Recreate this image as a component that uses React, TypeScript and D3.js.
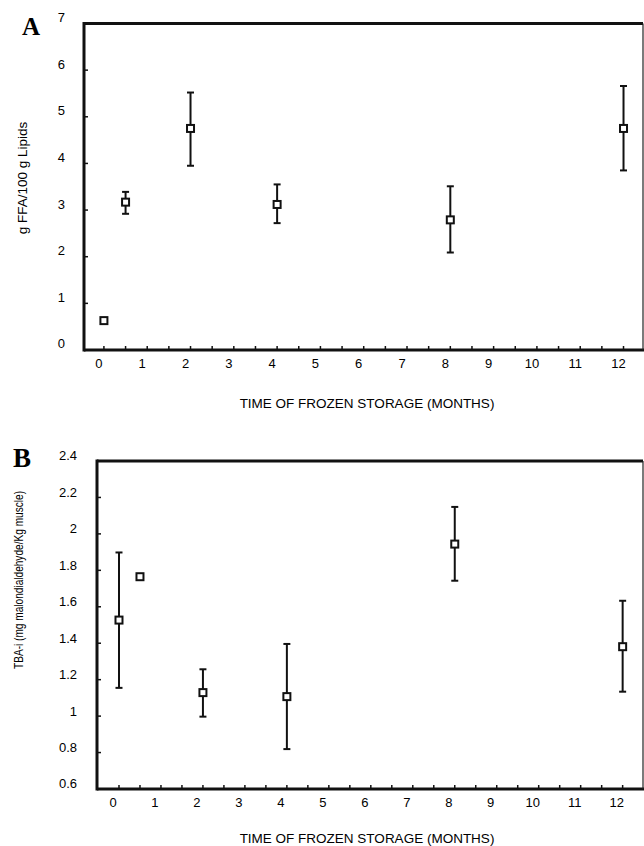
import React from "react";
import * as d3 from "d3";

// ---- Data ----
const monthsA = [0, 0.5, 2, 4, 8, 12];
const ffaMean = [0.63, 3.17, 4.75, 3.12, 2.79, 4.75];
const ffaLow = [0.63, 2.92, 3.95, 2.72, 2.09, 3.85];
const ffaHigh = [0.63, 3.39, 5.52, 3.55, 3.51, 5.66];

const monthsB = [0, 0.5, 2, 4, 8, 12];
const tbaMean = [1.527, 1.765, 1.129, 1.107, 1.944, 1.381];
const tbaLow = [1.155, 1.75, 0.997, 0.819, 1.743, 1.134];
const tbaHigh = [1.898, 1.78, 1.257, 1.396, 2.148, 1.633];

const xTicks = [0, 1, 2, 3, 4, 5, 6, 7, 8, 9, 10, 11, 12];
const yTicksA = [0, 1, 2, 3, 4, 5, 6, 7];
const yTicksB = [0.6, 0.8, 1, 1.2, 1.4, 1.6, 1.8, 2, 2.2, 2.4];

const xTitle = "TIME OF FROZEN STORAGE (MONTHS)";
const yTitleA = "g FFA/100 g Lipids";
const yTitleB = "TBA-i (mg malondialdehyde/Kg muscle)";

const FONT = "'Liberation Sans', Arial, Helvetica, sans-serif";
const SERIF = "'Liberation Serif', 'Times New Roman', serif";

type PanelProps = {
  letter: string;
  letterX: number;
  letterY: number;
  letterSize: number;
  left: number;
  right: number;
  top: number;
  bottom: number;
  xDomain: [number, number];
  yDomain: [number, number];
  yTicks: number[];
  yFmt: (v: number) => string;
  yLabelX: number;
  yLabelDy: number;
  xLabelDx: number;
  xLabelY: number;
  xTitleY: number;
  yTitle: string;
  yTitleX: number;
  yTitleY: number;
  yTitleSize: number;
  yTitleLen?: number;
  xs: number[];
  mean: number[];
  lo: number[];
  hi: number[];
};

function Panel(p: PanelProps) {
  const x = d3.scaleLinear().domain(p.xDomain).range([p.left, p.right]);
  const y = d3.scaleLinear().domain(p.yDomain).range([p.bottom, p.top]);
  const minor = d3.range(0, 12.01, 0.5);
  const sq = 7;
  return (
    <g>
      <text x={p.letterX} y={p.letterY} fontFamily={SERIF} fontWeight="bold" fontSize={p.letterSize} fill="#000">
        {p.letter}
      </text>
      {/* frame */}
      <line x1={p.left} x2={p.right} y1={p.top} y2={p.top} stroke="#111" strokeWidth={3} />
      <line x1={p.left} x2={p.right + 1} y1={p.bottom} y2={p.bottom} stroke="#111" strokeWidth={3} />
      <line x1={p.left} x2={p.left} y1={p.top - 1.5} y2={p.bottom + 1.5} stroke="#111" strokeWidth={3} />
      <line x1={p.right} x2={p.right} y1={p.top} y2={p.bottom} stroke="#222" strokeWidth={1.2} />
      {/* y ticks */}
      {p.yTicks.map((t) => (
        <g key={"y" + t}>
          <line x1={p.left} x2={p.left + 4} y1={y(t)} y2={y(t)} stroke="#111" strokeWidth={1.5} />
          <text x={p.yLabelX} y={y(t) + p.yLabelDy} textAnchor="end" dominantBaseline="middle" fontFamily={FONT} fontSize={13} fill="#000">
            {p.yFmt(t)}
          </text>
        </g>
      ))}
      {/* x ticks */}
      {minor.map((t) => (
        <line key={"m" + t} x1={x(t)} x2={x(t)} y1={p.bottom} y2={p.bottom - 4} stroke="#111" strokeWidth={1.5} />
      ))}
      {xTicks.map((t) => (
        <text key={"x" + t} x={x(t) + p.xLabelDx} y={p.xLabelY} textAnchor="middle" fontFamily={FONT} fontSize={13} fill="#000">
          {t}
        </text>
      ))}
      <text x={367} y={p.xTitleY} textAnchor="middle" fontFamily={FONT} fontSize={13.5} fill="#000">
        {xTitle}
      </text>
      <text
        transform={`translate(${p.yTitleX},${p.yTitleY}) rotate(-90)`}
        textAnchor="middle"
        dominantBaseline="middle"
        fontFamily={FONT}
        fontSize={p.yTitleSize}
        fill="#000"
        {...(p.yTitleLen ? { textLength: p.yTitleLen, lengthAdjust: "spacingAndGlyphs" } : {})}
      >
        {p.yTitle}
      </text>
      {/* error bars */}
      {p.xs.map((xv, i) => {
        const cx = x(xv);
        const has = p.hi[i] - p.lo[i] > 0.001;
        return (
          <g key={"e" + i}>
            {has && (
              <>
                <line x1={cx} x2={cx} y1={y(p.lo[i])} y2={y(p.hi[i])} stroke="#111" strokeWidth={2} />
                <line x1={cx - 3.5} x2={cx + 3.5} y1={y(p.lo[i])} y2={y(p.lo[i])} stroke="#111" strokeWidth={2} />
                <line x1={cx - 3.5} x2={cx + 3.5} y1={y(p.hi[i])} y2={y(p.hi[i])} stroke="#111" strokeWidth={2} />
              </>
            )}
            <rect x={cx - sq / 2} y={y(p.mean[i]) - sq / 2} width={sq} height={sq} fill="#fff" stroke="#111" strokeWidth={2} />
          </g>
        );
      })}
    </g>
  );
}

export default function App() {
  return (
    <svg width={644} height={846} style={{ position: "absolute", left: 0, top: 0, background: "#fff" }}>
      <rect width={644} height={846} fill="#fff" />
      <Panel
        letter="A"
        letterX={22}
        letterY={35}
        letterSize={25}
        left={84}
        right={643}
        top={23.5}
        bottom={350}
        xDomain={[-0.46, 12.45]}
        yDomain={[0, 7]}
        yTicks={yTicksA}
        yFmt={(v) => String(v)}
        yLabelX={65}
        yLabelDy={-5}
        xLabelDx={-5}
        xLabelY={368}
        xTitleY={408}
        yTitle={yTitleA}
        yTitleX={23}
        yTitleY={178}
        yTitleSize={13.5}
        xs={monthsA}
        mean={ffaMean}
        lo={ffaLow}
        hi={ffaHigh}
      />
      <Panel
        letter="B"
        letterX={13}
        letterY={467}
        letterSize={27}
        left={97}
        right={643}
        top={461}
        bottom={789}
        xDomain={[-0.524, 12.485]}
        yDomain={[0.6, 2.4]}
        yTicks={yTicksB}
        yFmt={(v) => d3.format("~g")(v)}
        yLabelX={77}
        yLabelDy={-4}
        xLabelDx={-6}
        xLabelY={807}
        xTitleY={843}
        yTitle={yTitleB}
        yTitleX={20}
        yTitleY={580}
        yTitleSize={12.5}
        yTitleLen={178}
        xs={monthsB}
        mean={tbaMean}
        lo={tbaLow}
        hi={tbaHigh}
      />
    </svg>
  );
}
